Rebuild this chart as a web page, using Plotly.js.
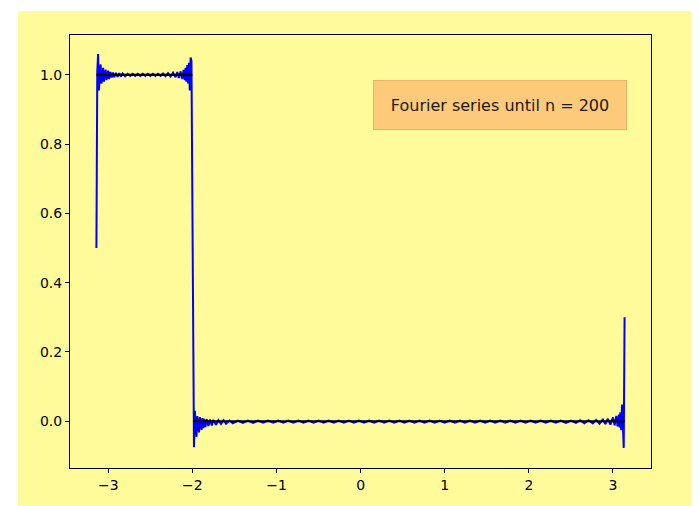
<!DOCTYPE html>
<html>
<head>
<meta charset="utf-8">
<script src="https://cdn.plot.ly/plotly-3.0.1.min.js"></script>
<style>
  html, body { margin: 0; padding: 0; background: #ffffff; width: 699px; height: 506px; overflow: hidden; }
  #chart { position: absolute; left: 18px; top: 11px; width: 673px; height: 495px; }
</style>
</head>
<body>
<div id="chart"></div>
<script>
// Fourier series (n = 200): x positions and values
const seriesX = [
  -3.1416, -3.1316, -3.1216, -3.1116, -3.1016, -3.0916, -3.0816, -3.0716, -3.0616, -3.0516,
  -3.0416, -3.0316, -3.0216, -3.0116, -3.0016, -2.9916, -2.975, -2.96, -2.945, -2.93,
  -2.91, -2.89, -2.87, -2.85, -2.83, -2.80, -2.77, -2.74, -2.71, -2.68,
  -2.65, -2.62, -2.59, -2.56, -2.53, -2.50, -2.47, -2.44, -2.41, -2.38,
  -2.35, -2.32, -2.29, -2.26, -2.23, -2.20, -2.18, -2.16, -2.14, -2.12,
  -2.105, -2.09, -2.0816, -2.0716, -2.0616, -2.0516, -2.0416, -2.0316, -2.0216, -2.0116,
  -2.0016, -1.9916, -1.9816, -1.9716, -1.9616, -1.9516, -1.9416, -1.9316, -1.9216, -1.9116,
  -1.9016, -1.8916, -1.8816, -1.8716, -1.86, -1.845, -1.83, -1.81, -1.79, -1.77,
  -1.75, -1.72, -1.69, -1.66, -1.63, -1.60, -1.56, -1.52,
  -1.46, -1.40, -1.34, -1.28, -1.22, -1.16, -1.10, -1.04, -0.98, -0.92,
  -0.86, -0.80, -0.74, -0.68, -0.62, -0.56, -0.50, -0.44, -0.38, -0.32,
  -0.26, -0.20, -0.14, -0.08, -0.02, 0.04, 0.10, 0.16, 0.22, 0.28,
  0.34, 0.40, 0.46, 0.52, 0.58, 0.64, 0.70, 0.76, 0.82, 0.88,
  0.94, 1.00, 1.06, 1.12, 1.18, 1.24, 1.30, 1.36, 1.42, 1.48,
  1.54, 1.60, 1.66, 1.72, 1.78, 1.84, 1.90, 1.96, 2.02, 2.08,
  2.14, 2.20, 2.26, 2.32, 2.38, 2.44, 2.50, 2.56,
  2.61, 2.66, 2.71, 2.76, 2.80, 2.84, 2.88, 2.91, 2.94, 2.97,
  3.00, 3.02, 3.04, 3.055, 3.07, 3.0784, 3.0884, 3.0984, 3.1084, 3.1184,
  3.1284, 3.1384
];
const seriesY = [
  0.50, 1.01, 1.06, 0.955, 1.00, 1.03, 0.975, 0.99, 1.02, 0.98,
  1.005, 1.015, 0.985, 1.00, 1.012, 0.988, 1.008, 0.992, 1.007, 0.993,
  1.006, 0.994, 1.005, 0.995, 1.004, 0.996, 1.003, 0.997, 1.003, 0.997,
  1.003, 0.997, 1.003, 0.997, 1.003, 0.997, 1.003, 0.997, 1.003, 0.997,
  1.004, 0.996, 1.005, 0.995, 1.006, 0.993, 1.008, 0.991, 1.010, 0.988,
  1.014, 0.985, 1.02, 0.98, 1.028, 0.975, 1.035, 0.955, 1.05, 1.04,
  0.60, 0.05, -0.075, 0.03, -0.01, -0.045, 0.015, -0.005, -0.032, 0.012,
  -0.01, -0.025, 0.009, -0.02, 0.007, -0.017, 0.006, -0.014, 0.005, -0.012,
  0.004, -0.010, 0.003, -0.008, 0.003, -0.007, 0.002, -0.006,
  0.002, -0.005, 0.002, -0.005, 0.002, -0.004, 0.002, -0.004, 0.002, -0.004,
  0.002, -0.004, 0.002, -0.004, 0.002, -0.004, 0.002, -0.004, 0.002, -0.004,
  0.002, -0.004, 0.002, -0.004, 0.002, -0.004, 0.002, -0.004, 0.002, -0.004,
  0.002, -0.004, 0.002, -0.004, 0.002, -0.004, 0.002, -0.004, 0.002, -0.004,
  0.002, -0.004, 0.002, -0.004, 0.002, -0.004, 0.002, -0.004, 0.002, -0.004,
  0.002, -0.004, 0.002, -0.004, 0.002, -0.004, 0.002, -0.004, 0.002, -0.004,
  0.002, -0.004, 0.002, -0.004, 0.002, -0.005, 0.002, -0.005,
  0.003, -0.006, 0.003, -0.006, 0.004, -0.007, 0.005, -0.008, 0.007, -0.010,
  0.011, -0.012, 0.015, -0.015, 0.019, -0.018, 0.026, -0.026, 0.048, -0.02,
  -0.077, 0.30
];

// Exact square-wave function (black), drawn as two flat pieces
const exactX = [-3.1416, -2.0016, null, -1.9916, 3.1384];
const exactY = [1, 1, null, 0, 0];

const xTicks = [-3, -2, -1, 0, 1, 2, 3];
const yTicks = [0, 0.2, 0.4, 0.6, 0.8, 1.0];
const yTickLabels = ['0.0', '0.2', '0.4', '0.6', '0.8', '1.0'];
const boxText = 'Fourier series until n = 200';

const bg = '#fffb9b';
const tickFont = { family: 'DejaVu Sans, sans-serif', size: 14, color: '#000' };

const traces = [
  { x: seriesX, y: seriesY, type: 'scatter', mode: 'lines',
    line: { color: '#0000ff', width: 2 }, hoverinfo: 'skip' },
  { x: exactX, y: exactY, type: 'scatter', mode: 'lines', connectgaps: false,
    line: { color: '#000000', width: 2.2 }, hoverinfo: 'skip' }
];

const axisCommon = {
  showgrid: false, zeroline: false, showline: true, mirror: true,
  linecolor: '#000', linewidth: 1, ticks: 'outside', ticklen: 4,
  tickwidth: 1, tickcolor: '#000', tickfont: tickFont, automargin: false
};

const layout = {
  width: 673, height: 495,
  paper_bgcolor: bg, plot_bgcolor: bg,
  margin: { l: 52, r: 40, t: 24, b: 38, pad: 0 },
  showlegend: false,
  xaxis: Object.assign({}, axisCommon, {
    range: [-3.4558, 3.4526], tickmode: 'array', tickvals: xTicks
  }),
  yaxis: Object.assign({}, axisCommon, {
    range: [-0.135, 1.115], tickmode: 'array', tickvals: yTicks, ticktext: yTickLabels
  }),
  annotations: [{
    x: 1.66, y: 0.913, xref: 'x', yref: 'y', xanchor: 'center', yanchor: 'middle',
    text: boxText, showarrow: false,
    font: { family: 'DejaVu Sans, sans-serif', size: 16, color: '#1a1a1a' },
    bgcolor: '#fdca7a', bordercolor: '#e9b36a', borderwidth: 1, borderpad: 0,
    width: 252, height: 48
  }]
};

Plotly.newPlot('chart', traces, layout, { displayModeBar: false, staticPlot: true });
</script>
</body>
</html>
